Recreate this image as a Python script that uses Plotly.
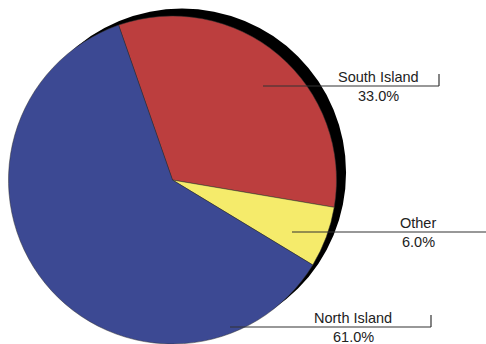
import plotly.graph_objects as go

labels = ["South Island", "Other", "North Island"]
values = [33.0, 6.0, 61.0]
colors = ["#BC3E3E", "#F5EB6B", "#3C4993"]

W, H = 486, 344

def px(x):
    return x / W

def py(y):
    return 1 - y / H

fig = go.Figure()
# shadow disc
fig.add_trace(go.Pie(values=[1], marker=dict(colors=["#000000"], line=dict(width=0)),
                     textinfo="none", hoverinfo="skip", showlegend=False, sort=False,
                     domain=dict(x=[px(18), px(346)], y=[py(337), py(8)])))
fig.add_trace(go.Pie(labels=labels, values=values, sort=False, direction="clockwise",
                     rotation=-19.2, textinfo="none", showlegend=False,
                     marker=dict(colors=colors, line=dict(width=0.5, color="#333333")),
                     domain=dict(x=[px(8), px(337)], y=[py(344), py(16)])))

# label positions: (line start x, line y, line end x, text center x, tick)
label_pos = [(263, 86, 439, 378, True), (292, 232, 486, 418, False), (230, 327, 431, 353, True)]
shapes = []
annotations = []
font = dict(family="Liberation Sans, Arial, sans-serif", size=14.5, color="#222222")
for (lab, val), (x0, y, x1, tx, tick) in zip(zip(labels, values), label_pos):
    shapes.append(dict(type="line", xref="paper", yref="paper", x0=px(x0), x1=px(x1),
                       y0=py(y), y1=py(y), line=dict(color="#333333", width=1.2)))
    if tick:
        shapes.append(dict(type="line", xref="paper", yref="paper", x0=px(x1), x1=px(x1),
                           y0=py(y), y1=py(y - 12), line=dict(color="#333333", width=1.2)))
    annotations.append(dict(text=lab, x=px(tx), y=py(y), xref="paper", yref="paper",
                            xanchor="center", yanchor="bottom", showarrow=False, font=font,
                            borderpad=0))
    annotations.append(dict(text=f"{val:.1f}%", x=px(tx), y=py(y + 1), xref="paper", yref="paper",
                            xanchor="center", yanchor="top", showarrow=False, font=font,
                            borderpad=0))

fig.update_layout(width=W, height=H, margin=dict(l=0, r=0, t=0, b=0),
                  paper_bgcolor="white", plot_bgcolor="white",
                  shapes=shapes, annotations=annotations)
fig.write_html("out.html", config={"displayModeBar": False},
               post_script="document.body.style.margin='0';document.body.style.overflow='hidden';")
